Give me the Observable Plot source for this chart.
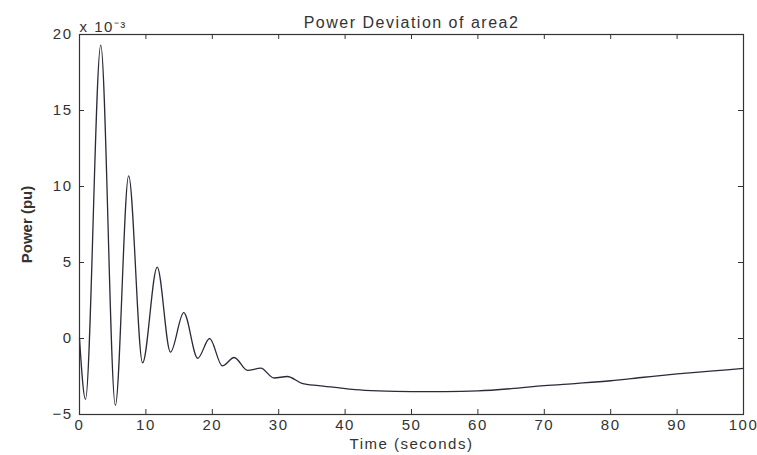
<!DOCTYPE html>
<html>
<head>
<meta charset="utf-8">
<script src="https://cdn.jsdelivr.net/npm/d3@7"></script>
<script src="https://cdn.jsdelivr.net/npm/@observablehq/plot@0.6"></script>
<style>
  html, body { margin: 0; padding: 0; background: #fff; }
  #chart svg { display: block; }
</style>
</head>
<body>
<div id="chart"></div>
<script>
const titleText = "Power Deviation of area2";
const xLabel = "Time (seconds)";
const yLabel = "Power (pu)";
const scaleNote = "x 10\u207B\u00B3";
const xTicks = [0, 10, 20, 30, 40, 50, 60, 70, 80, 90, 100];
const yTicks = [-5, 0, 5, 10, 15, 20];
const time = [0, 0.9, 3.2, 5.4, 7.4, 9.5, 11.7, 13.7, 15.7, 17.8, 19.6, 21.5, 23.3, 25.3, 27.3, 29.3, 31.3, 33.5, 36, 38.5, 41.5, 45, 50, 55, 60, 65, 70, 75, 80, 85, 90, 95, 100];
const power = [0, -4.0, 19.3, -4.4, 10.7, -1.6, 4.7, -0.9, 1.7, -1.3, 0.0, -1.8, -1.25, -2.1, -1.95, -2.6, -2.5, -2.95, -3.1, -3.22, -3.36, -3.45, -3.5, -3.5, -3.45, -3.3, -3.1, -2.95, -2.78, -2.55, -2.33, -2.15, -1.97];

const data = time.map((t, i) => ({t, v: power[i]}));

const W = 757, H = 455;
const mL = 79, mR = 14, mT = 34, mB = 41;
const innerW = W - mL - mR, innerH = H - mT - mB;
const tk = 5;
const ink = "#333";

const chart = Plot.plot({
  width: W, height: H,
  marginLeft: mL, marginRight: mR, marginTop: mT, marginBottom: mB,
  style: {fontFamily: "'Liberation Sans', Arial, sans-serif", fontSize: "14px", color: ink, background: "#fff"},
  x: {domain: [0, 100]},
  y: {domain: [-5, 20]},
  marks: [
    Plot.line(data, {x: "t", y: "v", stroke: "#2a2a3a", strokeWidth: 1.3, curve: "monotone-x"}),
    Plot.frame({stroke: ink, strokeWidth: 1.2}),
    Plot.tickX(xTicks, {x: d => d, insetTop: innerH - tk, stroke: ink}),
    Plot.tickX(xTicks, {x: d => d, insetBottom: innerH - tk, stroke: ink}),
    Plot.tickY(yTicks, {y: d => d, insetRight: innerW - tk, stroke: ink}),
    Plot.tickY(yTicks, {y: d => d, insetLeft: innerW - tk, stroke: ink}),
    Plot.axisX({ticks: xTicks, tickSize: 0, tickPadding: 5, fontSize: 15, label: xLabel, labelAnchor: "center", labelOffset: 34, labelArrow: "none"}),
    Plot.axisY({ticks: yTicks, tickSize: 0, tickPadding: 7, fontSize: 15, label: yLabel, labelAnchor: "center", labelOffset: 58, labelArrow: "none"}),
    Plot.text([titleText], {frameAnchor: "top", dy: -18, fontSize: 16, fill: ink}),
    Plot.text([scaleNote], {frameAnchor: "top-left", dy: -13, dx: 0, fontSize: 15, fill: ink, textAnchor: "start"})
  ]
});
const svg = d3.select(chart);
svg.selectAll("text").style("letter-spacing", "1.5px");
svg.selectAll("g[aria-label='y-axis label'] text, g[aria-label='y-axis label']").style("font-weight", "bold").style("letter-spacing", "0px");
document.getElementById("chart").appendChild(chart);
</script>
</body>
</html>
